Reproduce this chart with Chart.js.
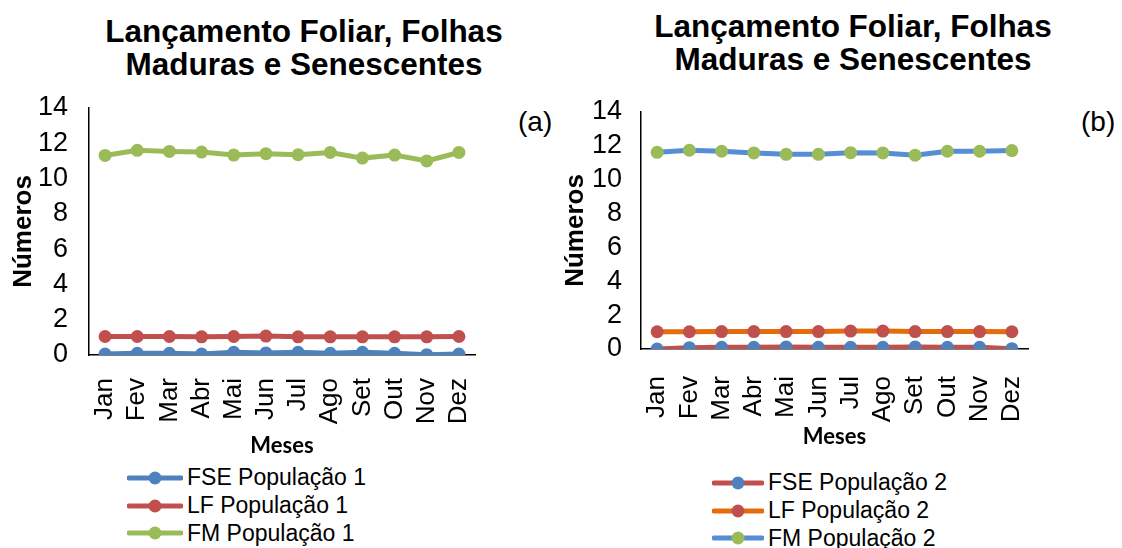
<!DOCTYPE html>
<html>
<head>
<meta charset="utf-8">
<script src="https://cdn.jsdelivr.net/npm/chart.js@4"></script>
<style>
  body { margin: 0; background: #fff; width: 1122px; height: 548px; overflow: hidden; position: relative; font-family: "Liberation Sans", Arial, sans-serif; }
  canvas { position: absolute; top: 0; }
  .title { position: absolute; width: 600px; text-align: center; font-weight: bold; font-size: 31.5px; line-height: 33px; color: #000; }
  .tag { position: absolute; font-size: 28px; color: #000; }
  .legend { position: absolute; font-size: 23px; color: #000; }
  .legend div { height: 27.7px; display: flex; align-items: center; }
  .legend svg { margin-right: 4px; }
</style>
</head>
<body>
<div class="title" style="left:4px; top:15px;">Lançamento Foliar, Folhas<br>Maduras e Senescentes</div>
<div class="title" style="left:553px; top:10px;">Lançamento Foliar, Folhas<br>Maduras e Senescentes</div>
<div class="tag" style="left:518px; top:106px;">(a)</div>
<div class="tag" style="left:1081px; top:106px;">(b)</div>
<canvas id="chartA" width="560" height="460" style="left:0"></canvas>
<canvas id="chartB" width="562" height="460" style="left:560px"></canvas>
<div class="legend" id="legendA" style="left:127px; top:464px;"></div>
<div class="legend" id="legendB" style="left:712px; top:469px;"></div>
<script>
const months = ['Jan', 'Fev', 'Mar', 'Abr', 'Mai', 'Jun', 'Jul', 'Ago', 'Set', 'Out', 'Nov', 'Dez'];
const yTicks = [0, 2, 4, 6, 8, 10, 12, 14];

// População 1
const fsePop1 = [0.05, 0.1, 0.1, 0.05, 0.15, 0.12, 0.15, 0.1, 0.15, 0.1, 0.02, 0.05];
const lfPop1 = [1.05, 1.05, 1.05, 1.03, 1.05, 1.07, 1.03, 1.03, 1.03, 1.03, 1.03, 1.05];
const fmPop1 = [11.31, 11.6, 11.54, 11.5, 11.33, 11.41, 11.35, 11.48, 11.16, 11.33, 11.0, 11.48];

// População 2
const fsePop2 = [0.0, 0.08, 0.1, 0.1, 0.12, 0.1, 0.1, 0.1, 0.12, 0.1, 0.1, 0.02];
const lfPop2 = [1.02, 1.02, 1.03, 1.03, 1.03, 1.03, 1.06, 1.06, 1.03, 1.03, 1.03, 1.02];
const fmPop2 = [11.62, 11.74, 11.68, 11.58, 11.5, 11.5, 11.6, 11.58, 11.45, 11.68, 11.68, 11.72];

const BLUE = '#4F81BD', RED = '#C0504D', GREEN = '#9BBB59', ORANGE = '#E46C0A', LIGHTBLUE = '#558ED5';

function serie(label, data, line, dot) {
    return {
        label: label, data: data,
        borderColor: line, backgroundColor: dot,
        pointBackgroundColor: dot, pointBorderColor: dot,
        borderWidth: 5, pointRadius: 6.5, pointBorderWidth: 0,
        tension: 0
    };
}

function makeChart(id, datasets, g) {
    new Chart(document.getElementById(id), {
        type: 'line',
        data: { labels: months, datasets: datasets },
        options: {
            responsive: false,
            animation: false,
            layout: { padding: { top: g.top, right: g.right, left: 0, bottom: 0 } },
            plugins: { legend: { display: false }, tooltip: { enabled: false } },
            scales: {
                x: {
                    offset: true,
                    grid: { display: false },
                    border: { color: '#000', width: 1.5 },
                    ticks: {
                        color: '#000', autoSkip: false, minRotation: 90, maxRotation: 90,
                        padding: g.xPad,
                        font: { family: 'Liberation Sans', size: 26 }
                    },
                    title: {
                        display: true, text: 'Meses', color: '#000',
                        font: { family: 'Lato', size: 22, weight: 'bold' },
                        padding: { top: 0, bottom: g.mesesPad }
                    },
                    afterFit: function(scale) { scale.height = g.xHeight; }
                },
                y: {
                    min: 0, max: 14,
                    grid: { display: false },
                    border: { color: '#000', width: 1.5 },
                    afterBuildTicks: function(scale) { scale.ticks = yTicks.map(v => ({ value: v })); },
                    ticks: {
                        color: '#000', padding: g.yPad, autoSkip: false,
                        font: { family: 'Liberation Sans', size: 27 }
                    },
                    title: {
                        display: true, text: 'Números', color: '#000',
                        font: { family: 'Liberation Sans', size: 26, weight: 'bold' },
                        padding: { top: g.numPad, bottom: 0 }
                    },
                    afterFit: function(scale) { scale.width = g.yWidth; }
                }
            }
        }
    });
}

function legend(id, datasets, w) {
    const box = document.getElementById(id);
    datasets.forEach(function(d) {
        const row = document.createElement('div');
        row.innerHTML = '<svg width="' + w + '" height="16"><line x1="2" y1="8" x2="' + (w - 2) + '" y2="8" stroke="' + d.borderColor +
            '" stroke-width="5" stroke-linecap="round"/><circle cx="' + (w / 2) + '" cy="8" r="6.5" fill="' + d.pointBackgroundColor +
            '"/></svg><span>' + d.label + '</span>';
        box.appendChild(row);
    });
}

const setA = [
    serie('FSE População 1', fsePop1, BLUE, BLUE),
    serie('LF População 1', lfPop1, RED, RED),
    serie('FM População 1', fmPop1, GREEN, GREEN)
];
const setB = [
    serie('FSE População 2', fsePop2, RED, BLUE),
    serie('LF População 2', lfPop2, ORANGE, RED),
    serie('FM População 2', fmPop2, LIGHTBLUE, GREEN)
];

makeChart('chartA', setA, { top: 108, right: 85, yWidth: 89, xHeight: 105, xPad: 15, yPad: 13, numPad: 8, mesesPad: 1 });
makeChart('chartB', setB, { top: 112, right: 94, yWidth: 81, xHeight: 111, xPad: 19, yPad: 11, numPad: 0, mesesPad: 10 });
legend('legendA', setA, 56);
legend('legendB', setB, 52);
</script>
</body>
</html>
